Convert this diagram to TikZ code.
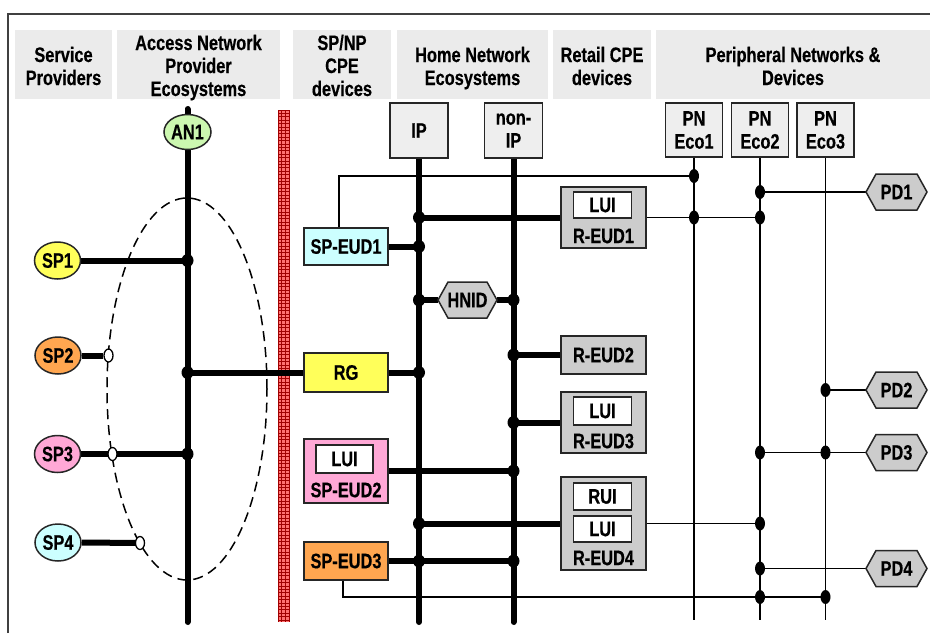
\documentclass[tikz,border=0pt]{standalone}
\usepackage{fontspec}
\setmainfont{Liberation Sans}[FakeStretch=0.78, BoldFeatures={FakeStretch=0.78, FakeBold=0.4}]
\usetikzlibrary{shapes.geometric,backgrounds,calc}
\definecolor{hdrgray}{HTML}{EBEBEB}
\definecolor{boxgray}{HTML}{EEEEEE}
\definecolor{retgray}{HTML}{CCCCCC}
\definecolor{bordercol}{HTML}{262626}
\definecolor{cyanfill}{HTML}{CCFFFF}
\definecolor{yellowfill}{HTML}{FFFF5A}
\definecolor{pinkfill}{HTML}{FFA8D6}
\definecolor{orangefill}{HTML}{FFA650}
\definecolor{greenfill}{HTML}{CCF7B0}
\definecolor{barred}{HTML}{FF7070}
\definecolor{bardark}{HTML}{A00000}
\tikzset{
  every node/.style={font=\fontsize{21}{23}\selectfont\bfseries},
  hdr/.style={fill=hdrgray, inner sep=0pt, minimum height=69pt, align=center},
  hdrtext/.style={inner sep=0pt, align=center},
  gbox/.style={draw=bordercol, line width=1.5pt, fill=boxgray, inner sep=0pt, align=center},
  cpebox/.style={draw=bordercol, line width=1.5pt, inner sep=0pt, minimum width=84pt},
  rbox/.style={draw=bordercol, line width=1.5pt, fill=retgray, inner sep=0pt, minimum width=85pt},
  wbox/.style={draw=bordercol, line width=1.5pt, fill=white, inner sep=0pt, minimum width=58pt},
  lbl/.style={inner sep=0pt},
  spell/.style={ellipse, draw=bordercol, line width=1.5pt, inner sep=0pt, minimum width=46pt, minimum height=37pt},
  opencirc/.style={ellipse, draw=black, line width=1.3pt, fill=white, inner sep=0pt, minimum width=9pt, minimum height=13pt},
  hexdraw/.style={draw=bordercol, line width=1.5pt, fill=retgray},
  hextext/.style={inner sep=0pt, minimum height=36pt},
  thickline/.style={line width=6pt, black},
  thinline/.style={line width=1.8pt, black},
  dashedell/.style={line width=1.5pt, dash pattern=on 10pt off 6pt},
}
\newcommand\hexnode[5]{%
  \filldraw[hexdraw] ($(#2,#3)+(-#4/2,0)$) -- ++(10,-18) -- ++(#4-20,0) -- ++(10,18) -- ++(-10,18) -- ++(-#4+20,0) -- cycle;
  \node[hextext, minimum width=#4pt] (#1) at (#2,#3) {#5};}
\begin{document}
\begin{tikzpicture}[x=1pt,y=-1pt]
\useasboundingbox (0,0) rectangle (930,633);
% frame
\draw[line width=2pt, black!75] (8,633) -- (8,14) -- (930,14);
% headers
\node[hdr, minimum width=97pt] (hsp) at (63.5,64.5) {};
\node[hdr, minimum width=163pt] (han) at (198.5,64.5) {};
\node[hdr, minimum width=98pt] (hcpe) at (342,64.5) {};
\node[hdr, minimum width=151pt] (hhn) at (472.5,64.5) {};
\node[hdr, minimum width=98pt] (hrt) at (602,64.5) {};
\node[hdr, minimum width=274pt] (hpn) at (793,64.5) {};
\node[hdrtext, anchor=base] (hspt) at (63.5,85) {Service\\Providers};
\node[hdrtext, anchor=base] (hant) at (198.5,96) {Access Network\\Provider\\Ecosystems};
\node[hdrtext, anchor=base] (hcpet) at (342,96) {SP/NP\\CPE\\devices};
\node[hdrtext, anchor=base] (hhnt) at (472.5,85) {Home Network\\Ecosystems};
\node[hdrtext, anchor=base] (hrtt) at (602,85) {Retail CPE\\devices};
\node[hdrtext, anchor=base] (hpnt) at (793,85) {Peripheral Networks \&\\Devices};
% top boxes
\node[gbox, minimum width=58pt, minimum height=55pt] (ip) at (419,130.5) {IP};
\node[gbox, minimum width=58pt, minimum height=55pt] (nonip) at (513.5,130.5) {non-\\IP};
\node[gbox, minimum width=57pt, minimum height=54pt] (eco1) at (694,130) {PN\\Eco1};
\node[gbox, minimum width=57pt, minimum height=54pt] (eco2) at (760,130) {PN\\Eco2};
\node[gbox, minimum width=57pt, minimum height=54pt] (eco3) at (825.5,130) {PN\\Eco3};
% bus end points
\coordinate (an1top) at (187.5,109);
\coordinate (an1bot) at (187.5,622);
\coordinate (ipbot) at (419,622);
\coordinate (nonipbot) at (513.5,622);
\coordinate (eco1bot) at (694,620);
\coordinate (eco2bot) at (760,620);
\coordinate (eco3bot) at (825.5,620);
\coordinate (j1) at (694,176);
\coordinate (j2) at (825.5,597);
% service providers
\node[spell, fill=yellowfill] (sp1) at (57.5,260.5) {SP1};
\node[spell, fill=orangefill] (sp2) at (58,355.5) {SP2};
\node[spell, fill=pinkfill] (sp3) at (57.5,454) {SP3};
\node[spell, fill=cyanfill] (sp4) at (58,542.5) {SP4};
\node[spell, fill=greenfill, minimum width=47pt, minimum height=35pt] (an1) at (187.5,132) {AN1};
% CPE boxes
\node[cpebox, fill=cyanfill, minimum height=37pt] (speud1) at (346,246.5) {SP-EUD1};
\node[cpebox, fill=yellowfill, minimum height=39pt] (rg) at (346,372.5) {RG};
\node[cpebox, fill=pinkfill, minimum height=64pt] (speud2) at (346,471) {};
\node[wbox, minimum width=57pt, minimum height=28pt] (lui2) at (344.5,459) {LUI};
\node[lbl] (speud2t) at (346,490) {SP-EUD2};
\node[cpebox, fill=orangefill, minimum height=38pt] (speud3) at (346,561) {SP-EUD3};
% retail boxes
\node[rbox, minimum height=61pt] (reud1) at (603.5,217.5) {};
\node[wbox, minimum height=26pt] (luir1) at (602.5,205) {LUI};
\node[lbl] (reud1t) at (603.5,236) {R-EUD1};
\node[rbox, minimum height=38pt] (reud2) at (603.5,355) {R-EUD2};
\node[rbox, minimum height=61pt] (reud3) at (603.5,422.5) {};
\node[wbox, minimum height=28pt] (luir3) at (602.5,411) {LUI};
\node[lbl] (reud3t) at (603.5,441) {R-EUD3};
\node[rbox, minimum height=93pt] (reud4) at (603.5,523.5) {};
\node[wbox, minimum height=27pt] (ruir4) at (602.5,496.5) {RUI};
\node[wbox, minimum height=26pt] (luir4) at (602.5,529) {LUI};
\node[lbl] (reud4t) at (603.5,558) {R-EUD4};
% hexagons
\hexnode{hnid}{467.5}{300}{59}{HNID}
\hexnode{pd1}{896.5}{192}{61}{PD1}
\hexnode{pd2}{896.5}{390}{61}{PD2}
\hexnode{pd3}{896.5}{452.5}{61}{PD3}
\hexnode{pd4}{896.5}{568.5}{61}{PD4}
% open circles
\node[opencirc] (o2) at (108.5,355.5) {};
\node[opencirc] (o3) at (112.5,454) {};
\node[opencirc] (o4) at (140,543) {};
\begin{scope}[on background layer]
  % dashed ellipse
  \draw[dashedell] (187,389) ellipse [x radius=80pt, y radius=191pt];
  % red bar
  \fill[barred] (278,110) rectangle (289,622);
  \foreach \yy in {110,113.4,...,622} \draw[bardark, line width=0.7pt] (278,\yy) -- (289,\yy);
  \foreach \xx in {278,281.67,285.33,289} \draw[bardark, line width=0.7pt] (\xx,110) -- (\xx,622);
  % thick connectors
  \draw[thickline, line cap=round] (an1top) -- (an1bot);
  \draw[thickline] (sp1.east) -- (sp1.east -| an1bot);
  \draw[thickline] (sp2.east) -- (o2);
  \draw[thickline] (sp3.east) -- (sp3.east -| an1bot);
  \draw[thickline] (sp4.east) -- (o4);
  \draw[thickline] (rg.west -| an1bot) -- (rg.west);
  \draw[thickline, line cap=round] (ip.south) -- (ipbot);
  \draw[thickline, line cap=round] (nonip.south) -- (nonipbot);
  \draw[thickline] (reud1.west -| ip.south) -- (reud1.west);
  \draw[thickline] (speud1.east) -- (speud1.east -| ip.south);
  \draw[thickline] (hnid.west -| ip.south) -- (hnid.west);
  \draw[thickline] (hnid.east) -- (hnid.east -| nonip.south);
  \draw[thickline] (rg.east) -- (rg.east -| ip.south);
  \draw[thickline] (reud2.west -| nonip.south) -- (reud2.west);
  \draw[thickline] (reud3.west -| nonip.south) -- (reud3.west);
  \draw[thickline] (speud2.east) -- (speud2.east -| nonip.south);
  \draw[thickline] (reud4.west -| ip.south) -- (reud4.west);
  \draw[thickline] (speud3.east) -- (speud3.east -| nonip.south);
  % thin connectors
  \draw[thinline] (eco1.south) -- (eco1bot);
  \draw[thinline] (eco2.south) -- (eco2bot);
  \draw[thinline] (eco3.south) -- (eco3bot);
  \draw[thinline] ([xshift=-7pt]speud1.north) |- (j1);
  \draw[thinline] (pd1.west -| eco2.south) -- (pd1.west);
  \draw[thinline] (reud1.east) -- (reud1.east -| eco2.south);
  \draw[thinline] (pd2.west -| eco3.south) -- (pd2.west);
  \draw[thinline] (pd3.west -| eco2.south) -- (pd3.west);
  \draw[thinline] (reud4.east) -- (reud4.east -| eco2.south);
  \draw[thinline] (pd4.west -| eco2.south) -- (pd4.west);
  \draw[thinline] ([xshift=-3pt]speud3.south) |- (j2);
\end{scope}
% thick junction dots
\foreach \p in {(sp1.east -| an1bot),(sp3.east -| an1bot),(rg.west -| an1bot),
  (reud1.west -| ip.south),(speud1.east -| ip.south),(hnid.west -| ip.south),(rg.east -| ip.south),
  (reud4.west -| ip.south),(speud3.east -| ip.south),
  (hnid.east -| nonip.south),(reud2.west -| nonip.south),(reud3.west -| nonip.south),
  (speud2.east -| nonip.south),(speud3.east -| nonip.south)}
  \fill \p ellipse [x radius=6pt, y radius=6.5pt];
% thin junction dots
\foreach \p in {(j1),(pd1.west -| eco2.south),(reud1.east -| eco1.south),(reud1.east -| eco2.south),
  (pd2.west -| eco3.south),(pd3.west -| eco2.south),(pd3.west -| eco3.south),
  (reud4.east -| eco2.south),(pd4.west -| eco2.south),(j2 -| eco2.south),(j2)}
  \fill \p ellipse [x radius=5pt, y radius=7pt];
\end{tikzpicture}
\end{document}
